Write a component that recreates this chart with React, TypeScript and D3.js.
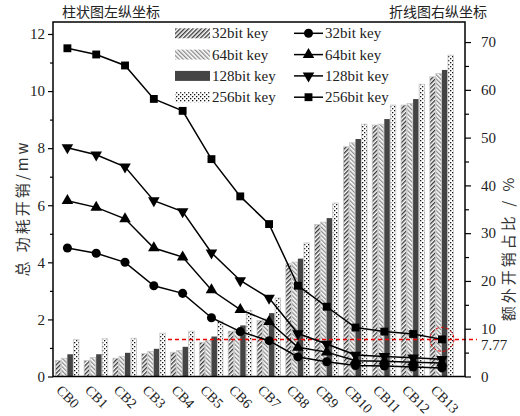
import { useEffect, useRef } from 'react'
import * as d3 from 'd3'

// categories
const categories = ['CB0', 'CB1', 'CB2', 'CB3', 'CB4', 'CB5', 'CB6', 'CB7', 'CB8', 'CB9', 'CB10', 'CB11', 'CB12', 'CB13']
const keyLabels = ['32bit key', '64bit key', '128bit key', '256bit key']

// bars: total power (mw), left axis
const bar32 = [0.56, 0.56, 0.64, 0.8, 0.85, 1.2, 1.59, 1.96, 3.95, 5.33, 8.05, 8.81, 9.51, 10.5]
const bar64 = [0.64, 0.67, 0.71, 0.88, 0.91, 1.26, 1.64, 2.02, 4.01, 5.41, 8.19, 8.84, 9.57, 10.62]
const bar128 = [0.78, 0.78, 0.83, 0.97, 1.04, 1.4, 1.79, 2.22, 4.13, 5.55, 8.32, 9.02, 9.72, 10.74]
const bar256 = [1.29, 1.32, 1.34, 1.52, 1.59, 1.94, 2.32, 2.75, 4.68, 6.08, 8.84, 9.51, 10.24, 11.26]

// lines: extra overhead ratio (%), right axis
const line32 = [26.9, 25.8, 23.9, 19.0, 17.4, 12.3, 9.4, 7.5, 4.1, 3.1, 2.3, 2.2, 2.0, 1.8]
const line64 = [36.8, 35.4, 33.0, 26.9, 25.0, 18.1, 14.0, 11.5, 6.1, 5.1, 3.3, 3.2, 3.0, 2.8]
const line128 = [47.9, 46.4, 43.9, 36.8, 34.5, 25.9, 20.1, 16.4, 9.0, 6.8, 4.5, 4.2, 3.9, 3.6]
const line256 = [68.7, 67.4, 65.1, 58.1, 55.6, 45.5, 37.7, 31.9, 19.0, 14.6, 10.25, 9.4, 8.9, 7.77]

// tick values
const leftTicks = [0, 2, 4, 6, 8, 10, 12]
const leftMinor = [1, 3, 5, 7, 9, 11]
const rightTicks = [0, 10, 20, 30, 40, 50, 60, 70]
const rightMinor = [5, 15, 25, 35, 45, 55, 65]
const markValue = 7.77

const serif = '"Liberation Serif", "Times New Roman", serif'
const cjk = '"Noto Sans CJK SC", sans-serif'

export default function App() {
  const ref = useRef<SVGSVGElement>(null)

  useEffect(() => {
    if (!ref.current) return
    const svg = d3.select(ref.current)
    svg.selectAll('*').remove()

    const left = 53
    const right = 465
    const top = 22
    const bottom = 376.5

    const x = d3.scaleLinear().domain([-0.5, 13.8]).range([left, right])
    const yL = d3.scaleLinear().domain([0, 12.42]).range([bottom, top])
    const yR = d3.scaleLinear().domain([0, 74.2]).range([bottom, top])
    const sub = d3.scaleBand<string>().domain(keyLabels).range([-0.42, 0.4]).paddingInner(0.08)

    // patterns
    const defs = svg.append('defs')
    const p32 = defs.append('pattern').attr('id', 'p32').attr('patternUnits', 'userSpaceOnUse')
      .attr('width', 3).attr('height', 3).attr('patternTransform', 'rotate(45)')
    p32.append('rect').attr('width', 3).attr('height', 3).attr('fill', '#fff')
    p32.append('rect').attr('width', 1.4).attr('height', 3).attr('fill', '#3a3a3a')

    const p64 = defs.append('pattern').attr('id', 'p64').attr('patternUnits', 'userSpaceOnUse')
      .attr('width', 3).attr('height', 3).attr('patternTransform', 'rotate(-45)')
    p64.append('rect').attr('width', 3).attr('height', 3).attr('fill', '#fff')
    p64.append('rect').attr('width', 1.3).attr('height', 3).attr('fill', '#8a8a8a')

    const p256 = defs.append('pattern').attr('id', 'p256').attr('patternUnits', 'userSpaceOnUse')
      .attr('width', 4).attr('height', 4)
    p256.append('rect').attr('width', 4).attr('height', 4).attr('fill', '#fff')
    p256.append('rect').attr('x', 0).attr('y', 0).attr('width', 1.3).attr('height', 1.3).attr('fill', '#111')
    p256.append('rect').attr('x', 2).attr('y', 2).attr('width', 1.3).attr('height', 1.3).attr('fill', '#111')

    const fills = ['url(#p32)', 'url(#p64)', '#444', 'url(#p256)']
    const barSets = [bar32, bar64, bar128, bar256]

    // bars
    barSets.forEach((vals, k) => {
      svg.append('g')
        .selectAll('rect')
        .data(vals)
        .join('rect')
        .attr('x', (_, i) => x(i + (sub(keyLabels[k]) as number)))
        .attr('width', x(sub.bandwidth()) - x(0))
        .attr('y', d => yL(d))
        .attr('height', d => yL(0) - yL(d))
        .attr('fill', fills[k])
        .attr('stroke', k === 2 ? 'none' : '#c8c8c8')
        .attr('stroke-width', 0.8)
    })

    // red reference line + circle
    svg.append('line')
      .attr('x1', 168).attr('x2', 477)
      .attr('y1', yR(markValue)).attr('y2', yR(markValue))
      .attr('stroke', '#e00').attr('stroke-width', 1.5).attr('stroke-dasharray', '4,3')
    svg.append('circle')
      .attr('cx', x(13)).attr('cy', yR(markValue)).attr('r', 12)
      .attr('fill', 'none').attr('stroke', '#e00').attr('stroke-width', 1).attr('stroke-dasharray', '3,2')

    // lines
    const lineSets = [line32, line64, line128, line256]
    const symbols = [
      { type: d3.symbolCircle, size: 64, rot: 0 },
      { type: d3.symbolTriangle, size: 58, rot: 0 },
      { type: d3.symbolTriangle, size: 58, rot: 180 },
      { type: d3.symbolSquare, size: 62, rot: 0 }
    ]
    const lineGen = d3.line<number>().x((_, i) => x(i)).y(d => yR(d))
    lineSets.forEach((vals, k) => {
      svg.append('path')
        .datum(vals)
        .attr('fill', 'none')
        .attr('stroke', '#000')
        .attr('stroke-width', 1.5)
        .attr('d', lineGen)
      const sym = d3.symbol().type(symbols[k].type).size(symbols[k].size)
      svg.append('g')
        .selectAll('path')
        .data(vals)
        .join('path')
        .attr('d', sym)
        .attr('fill', '#000')
        .attr('transform', (d, i) => `translate(${x(i)},${yR(d)}) rotate(${symbols[k].rot})`)
    })

    // frame
    svg.append('rect')
      .attr('x', left).attr('y', top)
      .attr('width', right - left).attr('height', bottom - top)
      .attr('fill', 'none').attr('stroke', '#000').attr('stroke-width', 1.5)

    // left axis
    const gl = svg.append('g').attr('transform', `translate(${left},0)`)
    gl.call(d3.axisLeft(yL).tickValues(leftTicks).tickSize(5).tickFormat(d3.format('d')))
    gl.append('g').call(d3.axisLeft(yL).tickValues(leftMinor).tickSize(3).tickFormat(() => ''))
    gl.selectAll('.domain').remove()
    gl.selectAll('.tick line').attr('stroke-width', 1.2)
    gl.selectAll('text').style('font-family', serif).style('font-size', '15px').attr('fill', '#222')

    // right axis
    const gr = svg.append('g').attr('transform', `translate(${right},0)`)
    gr.call(d3.axisRight(yR).tickValues(rightTicks).tickSize(6).tickPadding(10).tickFormat(d3.format('d')))
    gr.append('g').call(d3.axisRight(yR).tickValues(rightMinor).tickSize(4).tickFormat(() => ''))
    gr.selectAll('.domain').remove()
    gr.selectAll('.tick line').attr('stroke-width', 1.2)
    gr.selectAll('text').style('font-family', serif).style('font-size', '15px').attr('fill', '#222')
    gr.append('text')
      .attr('x', 16).attr('y', yR(markValue) + 10.5)
      .attr('fill', '#222').style('font-family', serif).style('font-size', '15px')
      .text('7.77')

    // category labels
    svg.append('g')
      .selectAll('text')
      .data(categories)
      .join('text')
      .attr('transform', (_, i) => `translate(${x(i) - 12},391) rotate(45)`)
      .style('font-family', serif)
      .style('font-size', '14px')
      .attr('fill', '#222')
      .text(d => d)

    // top notes
    svg.append('text').attr('x', 62).attr('y', 17)
      .style('font-family', cjk).style('font-size', '14px').attr('fill', '#222')
      .text('柱状图左纵坐标')
    svg.append('text').attr('x', 487).attr('y', 17).attr('text-anchor', 'end')
      .style('font-family', cjk).style('font-size', '14px').attr('fill', '#222')
      .text('折线图右纵坐标')

    // axis titles
    svg.append('text')
      .attr('transform', 'translate(28,208) rotate(-90)')
      .attr('text-anchor', 'middle')
      .style('font-family', cjk).style('font-size', '15px').style('letter-spacing', '3px').attr('fill', '#333')
      .text('总 功耗开销/mw')
    svg.append('text')
      .attr('transform', 'translate(514,248) rotate(-90)')
      .attr('text-anchor', 'middle')
      .style('font-family', cjk).style('font-size', '15px').style('letter-spacing', '3px').attr('fill', '#333')
      .text('额外开销占比 / %')

    // legend: bars
    const lb = svg.append('g')
    keyLabels.forEach((label, k) => {
      const cy = 33.3 + k * 21.3
      lb.append('rect').attr('x', 175).attr('y', cy - 5).attr('width', 35).attr('height', 10)
        .attr('fill', fills[k])
      lb.append('text').attr('x', 212).attr('y', cy + 5)
        .style('font-family', serif).style('font-size', '15px').attr('fill', '#222').text(label)
    })

    // legend: lines
    const ll = svg.append('g')
    keyLabels.forEach((label, k) => {
      const cy = 33.3 + k * 21.3
      ll.append('line').attr('x1', 294).attr('x2', 323).attr('y1', cy).attr('y2', cy)
        .attr('stroke', '#000').attr('stroke-width', 1.5)
      ll.append('path')
        .attr('d', d3.symbol().type(symbols[k].type).size(symbols[k].size)())
        .attr('transform', `translate(308.5,${cy}) rotate(${symbols[k].rot})`)
      ll.append('text').attr('x', 325).attr('y', cy + 5)
        .style('font-family', serif).style('font-size', '15px').attr('fill', '#222').text(label)
    })
  }, [])

  return (
    <svg
      ref={ref}
      width={520}
      height={416}
      style={{ position: 'absolute', left: 0, top: 0, background: '#fff' }}
    />
  )
}
